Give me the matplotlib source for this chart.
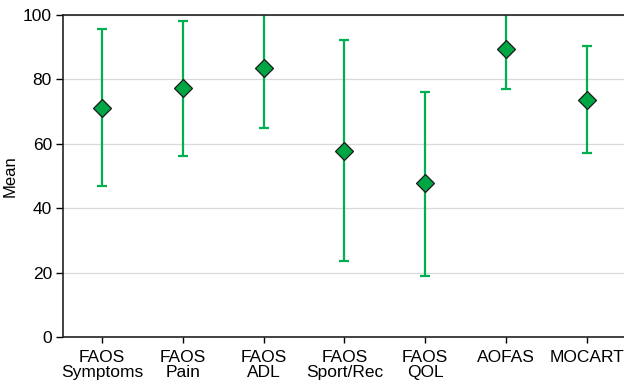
import matplotlib
matplotlib.use("Agg")
import matplotlib.pyplot as plt
import numpy as np

# ── DATA ──────────────────────────────────────────────────────────────────────
categories = ["FAOS\nSymptoms", "FAOS\nPain", "FAOS\nADL", "FAOS\nSport/Rec",
              "FAOS\nQOL", "AOFAS", "MOCART"]
means = [71.0, 77.2, 83.4, 57.8, 47.7, 89.4, 73.6]
upper = [95.6, 98.2, 102.0, 92.1, 76.2, 101.7, 90.4]
lower = [46.8, 56.3, 64.8, 23.6, 19.0, 77.1, 57.1]
y_ticks = [0, 20, 40, 60, 80, 100]

LINE_GREEN = "#00B050"
MARK_GREEN = "#00A544"

plt.rcParams["font.family"] = ["Liberation Sans", "DejaVu Sans"]

fig = plt.figure(figsize=(6.24, 3.89), dpi=100)
ax = fig.add_axes([63 / 624, 52 / 389, 1 - 63 / 624, 322 / 389])

x = np.arange(len(categories))
m = np.array(means)
err = [m - np.array(lower), np.array(upper) - m]

ax.errorbar(x, m, yerr=err, fmt="none", ecolor=LINE_GREEN, elinewidth=1.6,
            capsize=3.6, capthick=1.6, zorder=2)
ax.plot(x, m, "D", color=MARK_GREEN, markeredgecolor="#1a1a1a",
        markeredgewidth=0.9, markersize=9.2, zorder=3, clip_on=False)

ax.set_xlim(-0.483, 6.46)
ax.set_ylim(0, 100)
ax.set_yticks(y_ticks)
ax.set_xticks(x)
ax.set_xticklabels(categories, fontsize=12.5, linespacing=1.05)
ax.tick_params(axis="y", labelsize=12.5, length=5, width=1, direction="out", pad=3)
ax.tick_params(axis="x", length=4, width=1, direction="out", pad=5)
ax.set_ylabel("Mean", fontsize=12)
ax.yaxis.set_label_coords(-45 / 561, 0.5)

ax.yaxis.grid(True, color="#d9d9d9", linewidth=0.9)
ax.set_axisbelow(True)
for side in ["left", "bottom", "top"]:
    ax.spines[side].set_color("#222222")
    ax.spines[side].set_linewidth(1.2)
ax.spines["right"].set_visible(False)

fig.savefig("out.png", dpi=100)
